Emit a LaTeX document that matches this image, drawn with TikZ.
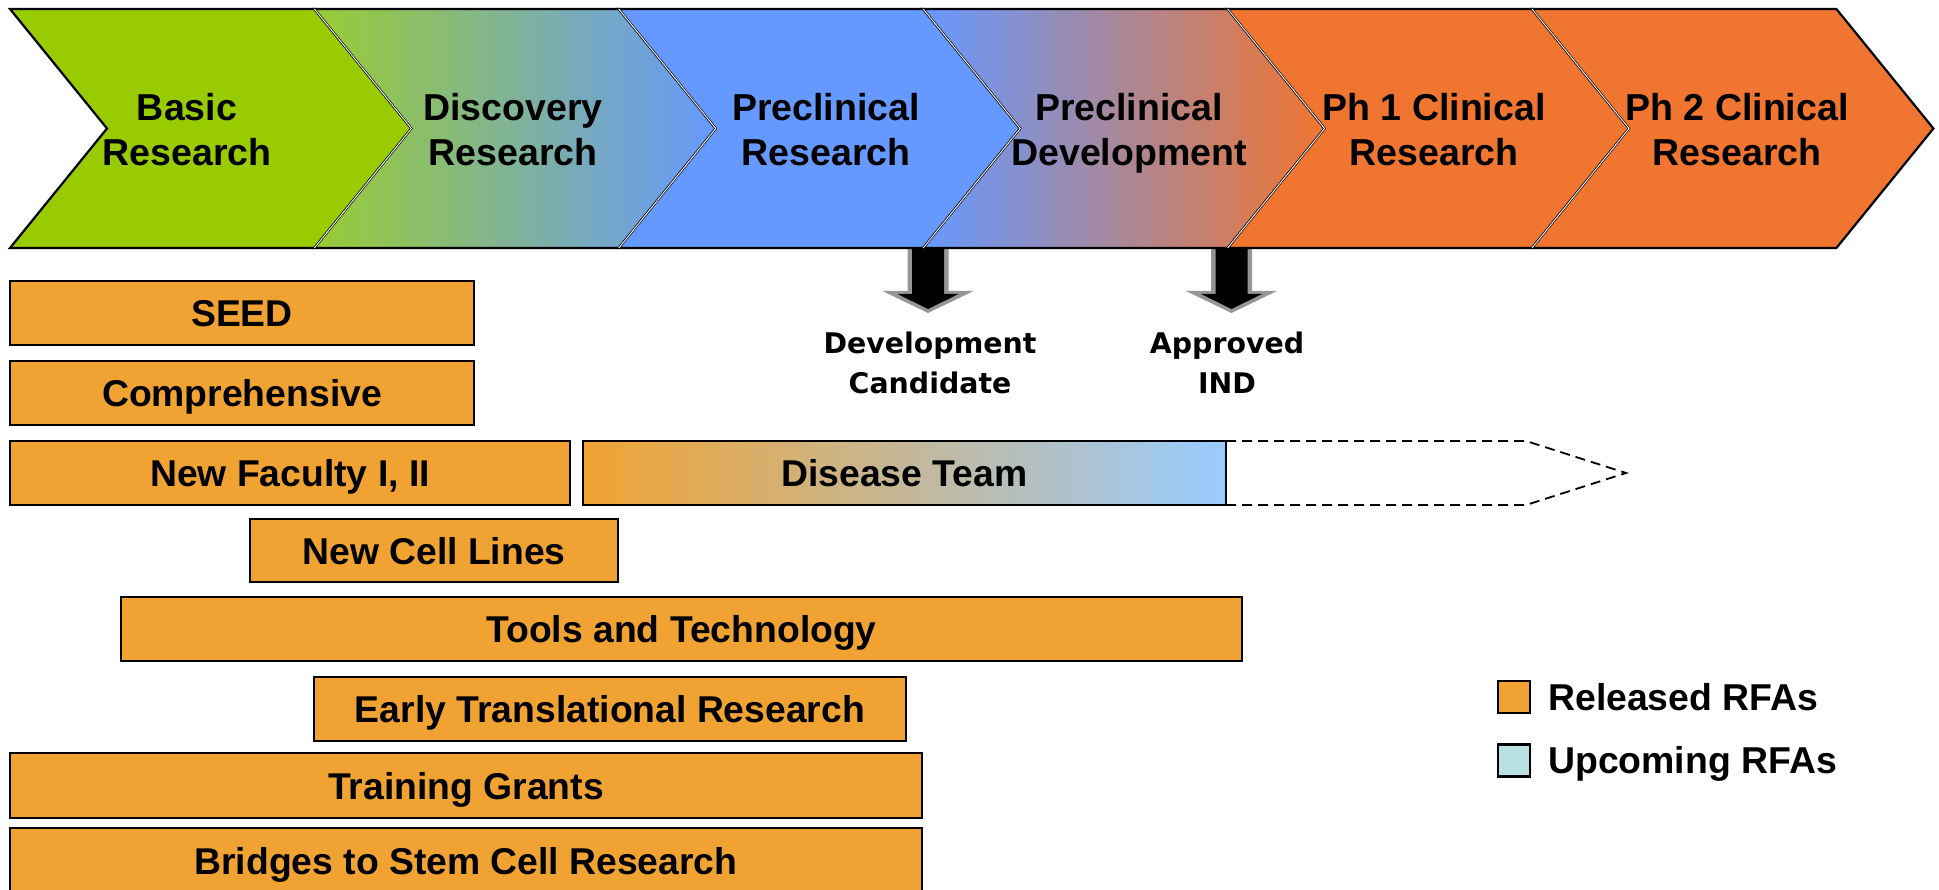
\documentclass[tikz,border=0pt]{standalone}
\usepackage{fontspec}
\setmainfont{Liberation Sans}
\newfontfamily\dvsans{DejaVu Sans}
\definecolor{cgreen}{RGB}{153,204,0}
\definecolor{cblue}{RGB}{102,153,255}
\definecolor{corange}{RGB}{240,117,48}
\definecolor{cbar}{RGB}{240,163,50}
\definecolor{clight}{RGB}{153,204,255}
\definecolor{cup}{RGB}{185,225,227}
\definecolor{cdg}{RGB}{153,204,51}
\definecolor{cpurp}{RGB}{170,140,214}
\definecolor{cdmid}{RGB}{204,184,196}
\definecolor{cgrey}{RGB}{150,150,150}
\begin{document}
\begin{tikzpicture}[x=1pt,y=-1pt,
  chev/.style={draw=black, line width=2.2pt, line join=miter},
  seam/.style={draw=white, line width=0.9pt},
  phase/.style={font=\bfseries\fontsize{37.5}{45}\selectfont, align=center, inner sep=0pt, anchor=north},
  lab/.style={font=\dvsans\bfseries\fontsize{28.4}{40}\selectfont, align=center, inner sep=0pt, anchor=north},
  bar/.style={draw=black, line width=2.4pt, fill=cbar, inner sep=0pt, outer sep=0pt, anchor=north west,
    font=\bfseries\fontsize{37.3}{45}\selectfont, text height=27pt, text depth=0pt},
  legbox/.style={draw=black, line width=2.2pt, minimum size=32pt, inner sep=0pt},
  legtext/.style={font=\bfseries\fontsize{37.4}{45}\selectfont, inner sep=0pt, anchor=base west},
  future/.style={draw=black, line width=1.8pt, dash pattern=on 10pt off 6pt},
  milestone/.pic={
    \fill[cgrey] (-20.5,0) -- (-20.5,44) -- (-45.5,44) -- (0,66) -- (45.5,44) -- (20.5,44) -- (20.5,0) -- cycle;
    \fill[black] (-16,0) -- (-16,47) -- (-30.5,47) -- (0,62) -- (30.5,47) -- (16,47) -- (16,0) -- cycle;
  }]
\useasboundingbox (0,0) rectangle (1939,890);
\fill[white] (0,0) rectangle (1939,890);

% milestone arrows (behind chevrons)
\coordinate (a1) at (928,247);
\coordinate (a2) at (1231.5,247);
\pic at (a1) {milestone};
\pic at (a2) {milestone};

% chevrons
\draw[chev, fill=cgreen] (10,9) -- (314.4,9) -- (411.4,128.5) -- (314.4,248) -- (10,248) -- (107,128.5) -- cycle;
\draw[chev, left color=cdg, right color=cblue] (314.4,9) -- (618.8,9) -- (715.8,128.5) -- (618.8,248) -- (314.4,248) -- (411.4,128.5) -- cycle;
\draw[chev, fill=cblue] (618.8,9) -- (923.2,9) -- (1020.2,128.5) -- (923.2,248) -- (618.8,248) -- (715.8,128.5) -- cycle;
\draw[chev, left color=cblue, middle color=cpurp, right color=corange] (923.2,9) -- (1227.6,9) -- (1324.6,128.5) -- (1227.6,248) -- (923.2,248) -- (1020.2,128.5) -- cycle;
\draw[chev, fill=corange] (1227.6,9) -- (1532,9) -- (1629,128.5) -- (1532,248) -- (1227.6,248) -- (1324.6,128.5) -- cycle;
\draw[chev, fill=corange] (1532,9) -- (1836.4,9) -- (1933.4,128.5) -- (1836.4,248) -- (1532,248) -- (1629,128.5) -- cycle;
% white seams
\draw[seam] (314.4,9) -- (411.4,128.5) -- (314.4,248);
\draw[seam] (618.8,9) -- (715.8,128.5) -- (618.8,248);
\draw[seam] (923.2,9) -- (1020.2,128.5) -- (923.2,248);
\draw[seam] (1227.6,9) -- (1324.6,128.5) -- (1227.6,248);
\draw[seam] (1532,9) -- (1629,128.5) -- (1532,248);

% phase labels
\node[phase] (p1) at (187,93) {Basic\\Research};
\node[phase] (p2) at (513,93) {Discovery\\Research};
\node[phase] (p3) at (826,93) {Preclinical\\Research};
\node[phase] (p4) at (1129,93) {Preclinical\\Development};
\node[phase] (p5) at (1434,93) {Ph 1 Clinical\\Research};
\node[phase] (p6) at (1737,93) {Ph 2 Clinical\\Research};

% milestone labels
\node[lab] (dc) at (930,332) {Development\\Candidate};
\node[lab] (ind) at (1227,332) {Approved\\IND};

% RFA bars
\node[bar, minimum width=464pt, minimum height=64pt] (seed) at (10,281) {SEED};
\node[bar, minimum width=464pt, minimum height=64pt] (comp) at (10,361) {Comprehensive};
\node[bar, minimum width=560pt, minimum height=64pt] (nf) at (10,441) {New Faculty I, II};
\node[bar, minimum width=643pt, minimum height=64pt, left color=cbar, middle color=cdmid, right color=clight] (dis) at (583,441) {Disease Team};
\node[bar, minimum width=368pt, minimum height=63pt] (ncl) at (250,519) {New Cell Lines};
\node[bar, minimum width=1121pt, minimum height=64pt] (tt) at (121,597) {Tools and Technology};
\node[bar, minimum width=592pt, minimum height=64pt] (etr) at (314,677) {Early Translational Research};
\node[bar, minimum width=912pt, minimum height=65pt] (tg) at (10,753) {Training Grants};
\node[bar, minimum width=912pt, minimum height=65pt] (br) at (10,828) {Bridges to Stem Cell Research};

% future extension of Disease Team
\draw[future] (dis.north east) -- (1526,441) -- (1626,473) -- (1526,505) -- (dis.south east);

% legend
\node[legbox, fill=cbar] (lr) at (1514,697) {};
\node[legtext] (lrt) at (1548,710) {Released RFAs};
\node[legbox, fill=cup] (lu) at (1514,760.5) {};
\node[legtext] (lut) at (1548,773) {Upcoming RFAs};
\end{tikzpicture}
\end{document}
